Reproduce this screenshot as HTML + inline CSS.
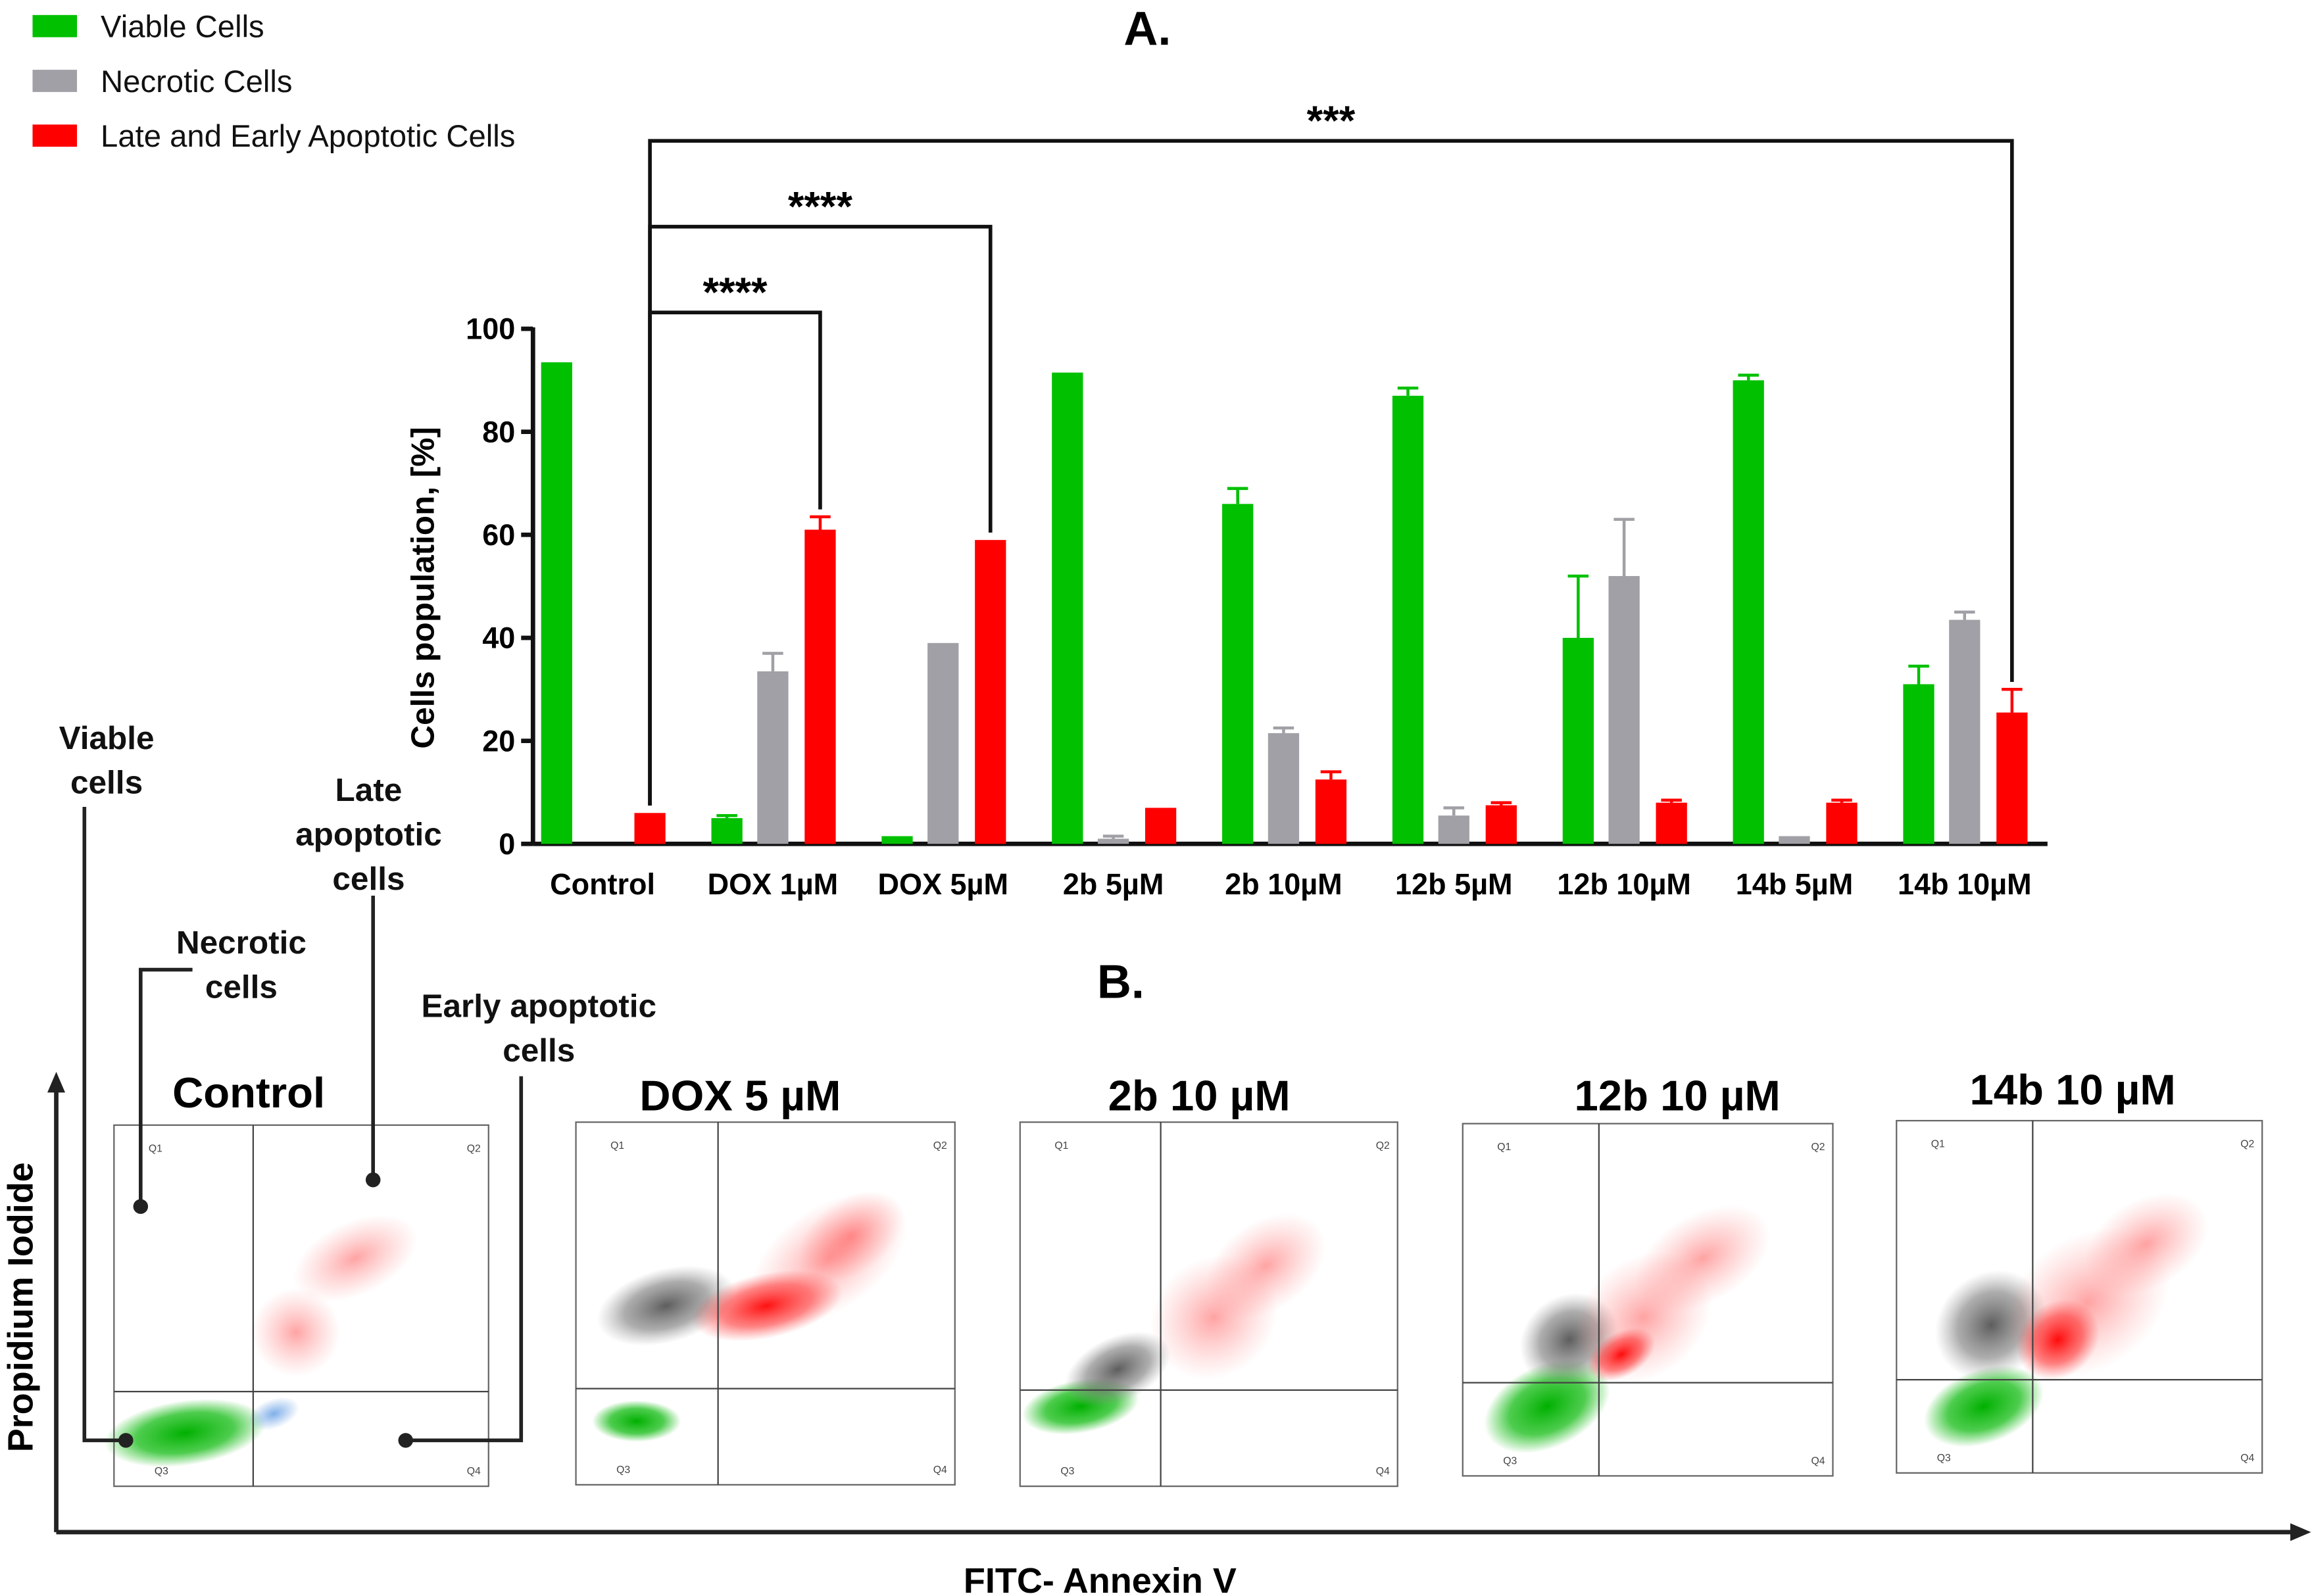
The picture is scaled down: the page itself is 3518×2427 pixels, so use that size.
<!DOCTYPE html>
<html><head><meta charset="utf-8"><style>
html,body{margin:0;padding:0;background:#fff}
svg{display:block}
text{font-family:"Liberation Sans","DejaVu Sans",sans-serif}
</style></head><body>
<svg id="fig" width="3518" height="2427" viewBox="0 0 1563 1078" xmlns="http://www.w3.org/2000/svg">
<defs>
<radialGradient id="gGreen"><stop offset="0" stop-color="#00b000" stop-opacity="1"/><stop offset="0.6" stop-color="#22c022" stop-opacity="0.8"/><stop offset="1" stop-color="#22c022" stop-opacity="0"/></radialGradient>
<radialGradient id="gGray"><stop offset="0" stop-color="#555" stop-opacity="0.95"/><stop offset="0.6" stop-color="#777" stop-opacity="0.6"/><stop offset="1" stop-color="#999" stop-opacity="0"/></radialGradient>
<radialGradient id="gRed"><stop offset="0" stop-color="#f00" stop-opacity="0.95"/><stop offset="0.6" stop-color="#f22" stop-opacity="0.55"/><stop offset="1" stop-color="#f44" stop-opacity="0"/></radialGradient>
<radialGradient id="gRedL"><stop offset="0" stop-color="#f33" stop-opacity="0.45"/><stop offset="1" stop-color="#f66" stop-opacity="0"/></radialGradient>
<radialGradient id="gBlue"><stop offset="0" stop-color="#4a8de0" stop-opacity="0.7"/><stop offset="1" stop-color="#4a8de0" stop-opacity="0"/></radialGradient>
</defs>
<g font-size="21" fill="#111">
<rect x="22" y="10" width="30" height="15" fill="#00c000"/><text x="68" y="25">Viable Cells</text>
<rect x="22" y="47" width="30" height="15" fill="#a0a0a6"/><text x="68" y="62">Necrotic Cells</text>
<rect x="22" y="84" width="30" height="15" fill="#ff0000"/><text x="68" y="99">Late and Early Apoptotic Cells</text>
</g>
<text x="775" y="30" font-size="32" font-weight="bold" text-anchor="middle">A.</text>
<g id="chart"></g>
<text x="757" y="674" font-size="32" font-weight="bold" text-anchor="middle">B.</text>
<g id="flow"></g>
<g stroke="#222" stroke-width="3" fill="none">
<line x1="38" y1="1035" x2="38" y2="735"/><line x1="38" y1="1035" x2="1550" y2="1035"/>
</g>
<polygon points="38,724 32,738 44,738" fill="#222"/>
<polygon points="1561,1035 1547,1029 1547,1041" fill="#222"/>
<text transform="translate(22,883) rotate(-90)" font-size="24" font-weight="bold" text-anchor="middle">Propidium Iodide</text>
<text x="743" y="1076" font-size="24" font-weight="bold" text-anchor="middle">FITC- Annexin V</text>
<g font-size="22" font-weight="bold" text-anchor="middle" fill="#111">
<text x="72" y="506">Viable</text><text x="72" y="536">cells</text>
<text x="163" y="644">Necrotic</text><text x="163" y="674">cells</text>
<text x="249" y="541">Late</text><text x="249" y="571">apoptotic</text><text x="249" y="601">cells</text>
<text x="364" y="687">Early apoptotic</text><text x="364" y="717">cells</text>
<g stroke="#222" stroke-width="2.5" fill="none">
<polyline points="57,545 57,973 85,973"/>
<polyline points="130,655 95,655 95,815"/>
<polyline points="252,605 252,797"/>
<polyline points="352,727 352,973 274,973"/>
</g>
<g fill="#222"><circle cx="85" cy="973" r="5"/><circle cx="95" cy="815" r="5"/><circle cx="252" cy="797" r="5"/><circle cx="274" cy="973" r="5"/></g>
</g>
<script>
const categories=["Control","DOX 1µM","DOX 5µM","2b 5µM","2b 10µM","12b 5µM","12b 10µM","14b 5µM","14b 10µM"];
const viable=[93.5,5,1.5,91.5,66,87,40,90,31];
const viableErr=[0,0.5,0,0,3,1.5,12,1,3.5];
const necrotic=[0,33.5,39,1,21.5,5.5,52,1.5,43.5];
const necroticErr=[0,3.5,0,0.5,1,1.5,11,0,1.5];
const apoptotic=[6,61,59,7,12.5,7.5,8,8,25.5];
const apoptoticErr=[0,2.5,0,0,1.5,0.5,0.5,0.5,4.5];
const yTicks=[0,20,40,60,80,100];
const NS="http://www.w3.org/2000/svg";
function mk(p,t,a){const e=document.createElementNS(NS,t);for(const k in a)e.setAttribute(k,a[k]);p.appendChild(e);return e;}
const chart=document.getElementById('chart');
const x0=360,x1=1383,yTop=222,yBot=570;
const y=v=>yBot-(v/100)*(yBot-yTop);
const xc=i=>407+115*i;
let ax=mk(chart,'line',{x1:x0,y1:yTop-1,x2:x0,y2:yBot,stroke:'#111','stroke-width':3});

let bx=mk(chart,'line',{x1:x0,y1:yBot,x2:x1,y2:yBot,stroke:'#111','stroke-width':3});

yTicks.forEach(t=>{
 mk(chart,'line',{x1:x0-8,y1:y(t),x2:x0,y2:y(t),stroke:'#111','stroke-width':3});
 const tx=mk(chart,'text',{x:x0-12,y:y(t)+7,'font-size':20,'font-weight':'bold','text-anchor':'end'});
 tx.textContent=t;
 
 
});
const yl=mk(chart,'text',{transform:'translate(293,397) rotate(-90)','font-size':22,'font-weight':'bold','text-anchor':'middle'});
yl.textContent='Cells population, [%]';


const series=[[viable,viableErr,'#00c000',-31,'bar-viable'],[necrotic,necroticErr,'#a0a0a6',0,'bar-necrotic'],[apoptotic,apoptoticErr,'#ff0000',32,'bar-apoptotic']];
categories.forEach((c,i)=>{
 const cx=xc(i);
 series.forEach(([vals,errs,col,off,nm])=>{
  const v=vals[i],e=errs[i],bxc=cx+off,w=21;
  if(e>0){mk(chart,'line',{x1:bxc,y1:y(v),x2:bxc,y2:y(v+e),stroke:col,'stroke-width':2});
   mk(chart,'line',{x1:bxc-7,y1:y(v+e),x2:bxc+7,y2:y(v+e),stroke:col,'stroke-width':2});}
  const r=mk(chart,'rect',{x:bxc-w/2,y:y(v),width:w,height:Math.max(0,yBot-y(v)),fill:col});
  
  
 });
 const t=mk(chart,'text',{x:cx,y:604,'font-size':20,'font-weight':'bold','text-anchor':'middle'});
 t.textContent=c;
 
 
});
const brackets=[[0,1,211,'****'],[0,2,153,'****'],[0,8,95,'***']];
brackets.forEach(([a,b,by,s])=>{
 const xa=xc(a)+32,xb=xc(b)+32;
 const ya=y(apoptotic[a]+apoptoticErr[a])-5,yb=y(apoptotic[b]+apoptoticErr[b])-5;
 const p=mk(chart,'polyline',{points:`${xa},${ya} ${xa},${by} ${xb},${by} ${xb},${yb}`,fill:'none',stroke:'#111','stroke-width':2.5});
 
 
 const t=mk(chart,'text',{x:(xa+xb)/2,y:by-4,'font-size':28,'font-weight':'bold','text-anchor':'middle'});
 t.textContent=s;
 
 
});
const flow=document.getElementById('flow');
const plots=[
 {t:'Control',tx:168,ty:748,x:77,y:760,x2:330,y2:1004,dx:171,dy:940,cl:[['gGreen',125,968,55,22,-8],['gBlue',185,955,18,10,-20],['gRedL',240,850,45,25,-25],['gRedL',200,900,30,30,-30]]},
 {t:'DOX 5 µM',tx:500,ty:750,x:389,y:758,x2:645,y2:1003,dx:485,dy:938,cl:[['gGray',450,882,48,25,-15],['gRed',518,882,52,22,-12],['gRedL',560,850,60,35,-35],['gRedL',575,835,40,25,-35],['gGreen',430,960,30,14,0]]},
 {t:'2b 10 µM',tx:810,ty:750,x:689,y:758,x2:944,y2:1004,dx:784,dy:939,cl:[['gGreen',730,950,40,18,-10],['gGray',755,925,38,22,-25],['gRedL',820,890,45,40,-40],['gRedL',855,855,45,30,-35]]},
 {t:'12b 10 µM',tx:1133,ty:750,x:988,y:759,x2:1238,y2:997,dx:1080,dy:934,cl:[['gGreen',1045,950,45,28,-25],['gGray',1060,905,35,30,-35],['gRedL',1110,890,50,40,-40],['gRedL',1150,850,50,30,-30],['gRed',1095,915,25,15,-30]]},
 {t:'14b 10 µM',tx:1400,ty:746,x:1281,y:757,x2:1528,y2:995,dx:1373,dy:932,cl:[['gGreen',1340,950,42,25,-20],['gGray',1345,895,40,35,-40],['gRedL',1410,880,60,45,-35],['gRed',1390,905,30,25,-40],['gRedL',1450,840,45,30,-30]]}
];
plots.forEach(p=>{
 const g=mk(flow,'g',{});
 
 
 p.cl.forEach(([f,cx,cy,rx,ry,rot])=>mk(g,'ellipse',{cx,cy,rx,ry,fill:`url(#${f})`,transform:`rotate(${rot} ${cx} ${cy})`}));
 mk(g,'rect',{x:p.x,y:p.y,width:p.x2-p.x,height:p.y2-p.y,fill:'none',stroke:'#666','stroke-width':1});
 mk(g,'line',{x1:p.dx,y1:p.y,x2:p.dx,y2:p.y2,stroke:'#444','stroke-width':1});
 mk(g,'line',{x1:p.x,y1:p.dy,x2:p.x2,y2:p.dy,stroke:'#444','stroke-width':1});
 [['Q1',p.x+28,p.y+18],['Q2',p.x2-10,p.y+18],['Q3',p.x+32,p.y2-8],['Q4',p.x2-10,p.y2-8]].forEach(([q,qx,qy])=>{
  const t=mk(g,'text',{x:qx,y:qy,'font-size':7,fill:'#444','text-anchor':'middle'});t.textContent=q;});
 const t=mk(g,'text',{x:p.tx,y:p.ty,'font-size':29,'font-weight':'bold','text-anchor':'middle'});
 t.textContent=p.t;
 
 
});
</script>
</svg>
</body></html>
